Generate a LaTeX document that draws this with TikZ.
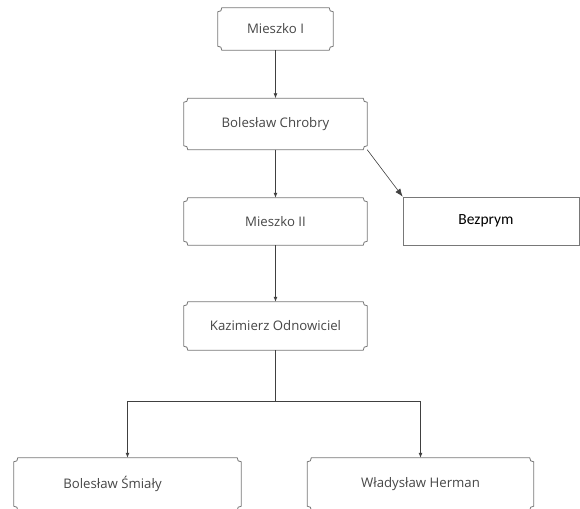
\documentclass[tikz,border=0pt]{standalone}
\usepackage{fontspec}
\setmainfont{Open Sans}
\newfontfamily\calibri{Carlito}
\usetikzlibrary{arrows.meta}

\definecolor{framegray}{RGB}{120,120,120}
\definecolor{textgray}{RGB}{70,70,70}

% outline with small concave corners
\newcommand{\ornate}[1]{%
  \draw[framegray,line width=0.8pt]
    ([xshift=4pt]#1.north west) -- ([xshift=-4pt]#1.north east)
    to[bend right=60] ([yshift=-4pt]#1.north east)
    -- ([yshift=4pt]#1.south east)
    to[bend right=60] ([xshift=-4pt]#1.south east)
    -- ([xshift=4pt]#1.south west)
    to[bend right=60] ([yshift=4pt]#1.south west)
    -- ([yshift=-4pt]#1.north west)
    to[bend right=60] cycle;}

\begin{document}
\begin{tikzpicture}[
      x=1pt, y=-1pt,
      fancy/.style={rectangle,
                    minimum height=48pt,
                    inner sep=0pt,
                    text=textgray,
                    font=\fontsize{13.2}{15}\selectfont},
      plain/.style={rectangle,
                    draw=framegray,
                    line width=0.6pt,
                    minimum width=176pt,
                    minimum height=48pt,
                    inner sep=0pt,
                    font=\calibri\fontsize{15.5}{17}\selectfont},
      link/.style={line width=0.8pt,
                   color=black!75,
                   -{Latex[length=5pt,width=4pt]}}
    ]

    \useasboundingbox (0,0) rectangle (580,508);
    \clip (0,0) rectangle (580,508);

    \draw (275.5,29)
          node[fancy,minimum width=115pt,minimum height=42pt]
          (mieszkoI)
          { Mieszko I };
    \draw (275.5,124)
          node[fancy,minimum width=183pt,minimum height=51pt]
          (chrobry)
          { Bolesław Chrobry };
    \draw (275.5,221.5)
          node[fancy,minimum width=183pt,minimum height=47pt]
          (mieszkoII)
          { Mieszko II };
    \draw (491,221)
          node[plain]
          (bezprym)
          { Bezprym\hspace*{10pt} };
    \draw (275.5,326)
          node[fancy,minimum width=183pt,minimum height=48pt]
          (kazimierz)
          { Kazimierz Odnowiciel };
    \draw (127.5,484)
          node[fancy,minimum width=227pt,minimum height=52pt]
          (smialy)
          { Bolesław Śmiały\hspace*{30pt} };
    \draw (420.5,484)
          node[fancy,minimum width=226pt,minimum height=52pt]
          (herman)
          { Władysław Herman };

    \ornate{mieszkoI}
    \ornate{chrobry}
    \ornate{mieszkoII}
    \ornate{kazimierz}
    \ornate{smialy}
    \ornate{herman}

    \coordinate (fork) at (275.5,401);

    \draw [link] (mieszkoI) to (chrobry);
    \draw [link] (chrobry) to (mieszkoII);
    \draw [link] (mieszkoII) to (kazimierz);
    \draw [line width=0.6pt,color=black!75,-{Latex[length=8pt,width=6pt]}]
                 (chrobry.south east) to (bezprym.north west);
    \draw [line width=0.8pt,color=black!75] (kazimierz) -- (fork);
    \draw [link] (fork) -| (smialy);
    \draw [link] (fork) -| (herman);

\end{tikzpicture}
\end{document}
